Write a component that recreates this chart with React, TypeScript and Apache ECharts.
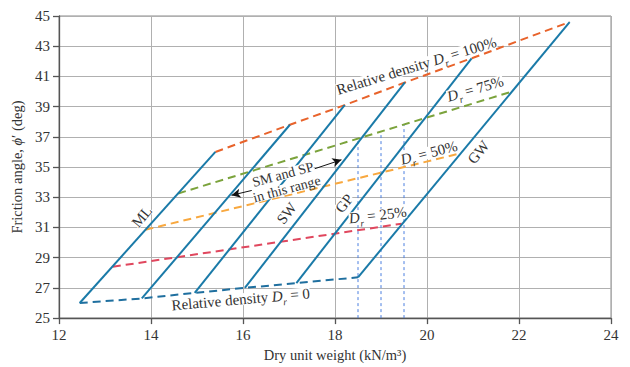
import React, { useEffect, useRef } from 'react';
import * as echarts from 'echarts';

// Dry unit weight (kN/m3) and friction angle (deg) at the loose (Dr = 0) end of each soil line
const gammaDr0 = [12.45, 13.8, 14.95, 16.04, 17.16, 18.5];
const phiDr0 = [26.0, 26.3, 26.67, 27.0, 27.32, 27.7];
// ... and at the dense (Dr = 100%) end
const gammaDr100 = [15.4, 17.02, 18.21, 19.52, 20.97, 23.1];
const phiDr100 = [36.0, 37.8, 39.1, 40.6, 42.2, 44.6];

// Intermediate relative-density lines (start on ML, end on GW)
const dr25Gamma = [13.17, 19.45];
const dr25Phi = [28.4, 31.25];
const dr50Gamma = [13.88, 20.72];
const dr50Phi = [30.85, 35.9];
const dr75Gamma = [14.59, 21.85];
const dr75Phi = [33.25, 40.0];

// Dotted guide lines
const guideGamma = [18.5, 19.0, 19.5];
const guideTopPhi = [36.9, 37.35, 37.85];

// Arrows for "SM and SP in this range"
const arrowFrom = [[16.19, 33.45], [17.56, 34.89]];
const arrowTo = [[15.75, 33.13], [18.14, 35.48]];

const xTicks = { min: 12, max: 24, step: 2 };
const yTicks = { min: 25, max: 45, step: 2 };

const FONT = '"Liberation Serif", "DejaVu Serif", serif';
const TEXT = '#333333';
const BLUE = '#1a7aa8';

const annotations = [
  { text: '{t|Relative density }{i|D}{s|r}{t| = 100%}', at: [19.77, 41.7], rot: 17, size: 15 },
  { text: '{i|D}{s|r}{t| = 75%}', at: [21.05, 40.18], rot: 16, size: 15 },
  { text: '{i|D}{s|r}{t| = 50%}', at: [20.04, 35.95], rot: 14.5, size: 15 },
  { text: '{i|D}{s|r}{t| = 25%}', at: [18.93, 31.82], rot: 7, size: 15 },
  { text: '{t|Relative density }{i|D}{s|r}{t| = 0}', at: [15.95, 26.24], rot: 5, size: 15 },
  { text: '{t|ML}', at: [13.8, 31.72], rot: 50, size: 15 },
  { text: '{t|SW}', at: [16.95, 31.93], rot: 52, size: 15 },
  { text: '{t|GP}', at: [18.2, 32.59], rot: 52, size: 15 },
  { text: '{t|GW}', at: [21.12, 35.98], rot: 51, size: 15 },
  { text: '{t|SM and SP}\n{t|in this range}', at: [16.91, 34.02], rot: 15, size: 14 },
];

export default function App() {
  const ref = useRef<HTMLDivElement>(null);

  useEffect(() => {
    const chart = echarts.init(ref.current as HTMLDivElement, null, { renderer: 'svg' });

    const soilSeries = gammaDr0.map((g, i) => ({
      type: 'line',
      symbol: 'none',
      silent: true,
      lineStyle: { color: BLUE, width: 2 },
      data: [
        [g, phiDr0[i]],
        [gammaDr100[i], phiDr100[i]],
      ],
      z: 3,
    }));

    const dashed = (xs: number[], ys: number[], color: string) => ({
      type: 'line',
      symbol: 'none',
      silent: true,
      lineStyle: { color, width: 2, type: [8, 5] },
      data: xs.map((x, i) => [x, ys[i]]),
      z: 2,
    });

    const guideSeries = guideGamma.map((g, i) => ({
      type: 'line',
      symbol: 'none',
      silent: true,
      lineStyle: { color: '#4a7fe0', width: 1, type: [3, 3] },
      data: [
        [g, yTicks.min],
        [g, guideTopPhi[i]],
      ],
      z: 1,
    }));

    const arrowSeries = {
      type: 'line',
      data: [],
      silent: true,
      markLine: {
        silent: true,
        symbol: ['none', 'arrow'],
        symbolSize: [7, 9],
        label: { show: false },
        lineStyle: { color: '#111', width: 1, type: 'solid' },
        data: arrowFrom.map((f, i) => [{ coord: f }, { coord: arrowTo[i] }]),
      },
    };

    const axisLineStyle = { color: '#555', width: 1.3 };

    chart.setOption({
      animation: false,
      backgroundColor: '#ffffff',
      textStyle: { fontFamily: FONT },
      grid: {
        left: 59,
        right: 19,
        top: 16,
        bottom: 45,
        show: true,
        borderColor: '#8a8a8a',
        borderWidth: 1,
      },
      xAxis: {
        type: 'value',
        min: xTicks.min,
        max: xTicks.max,
        interval: xTicks.step,
        axisLine: { show: true, onZero: false, lineStyle: axisLineStyle },
        axisTick: { show: true, length: 6, lineStyle: axisLineStyle },
        axisLabel: { fontSize: 15, color: TEXT, fontFamily: FONT, margin: 9 },
        splitLine: { show: true, lineStyle: { color: '#b0b0b0', width: 1 } },
        name: 'Dry unit weight (kN/m³)',
        nameLocation: 'middle',
        nameGap: 27,
        nameTextStyle: { fontSize: 14.5, color: TEXT, fontFamily: FONT },
      },
      yAxis: {
        type: 'value',
        min: yTicks.min,
        max: yTicks.max,
        interval: yTicks.step,
        axisLine: { show: true, onZero: false, lineStyle: axisLineStyle },
        axisTick: { show: true, length: 6, lineStyle: axisLineStyle },
        axisLabel: { fontSize: 15, color: TEXT, fontFamily: FONT, margin: 9 },
        splitLine: { show: true, lineStyle: { color: '#b0b0b0', width: 1 } },
        name: 'Friction angle, {i|ϕ}′ (deg)',
        nameLocation: 'middle',
        nameGap: 29,
        nameTextStyle: {
          fontSize: 14.5,
          color: TEXT,
          fontFamily: FONT,
          rich: { i: { fontStyle: 'italic', fontSize: 14.5, color: TEXT, fontFamily: FONT } },
        },
      },
      series: [
        ...guideSeries,
        dashed(gammaDr0, phiDr0, '#1f6f9f'),
        dashed(dr25Gamma, dr25Phi, '#e0475e'),
        dashed(dr50Gamma, dr50Phi, '#f8a83f'),
        dashed(dr75Gamma, dr75Phi, '#7ba33c'),
        dashed(gammaDr100, phiDr100, '#e8632b'),
        ...soilSeries,
        arrowSeries,
      ],
    });

    const graphic = annotations.map((a) => {
      const p = chart.convertToPixel({ gridIndex: 0 }, a.at) as number[];
      const twoLines = a.text.includes('\n');
      const boxH = Math.round(a.size * 0.8);
      return {
        type: 'text',
        x: p[0],
        y: p[1],
        rotation: (a.rot * Math.PI) / 180,
        z: 10,
        silent: true,
        style: {
          text: a.text,
          fill: TEXT,
          fontSize: a.size,
          fontFamily: FONT,
          align: 'center',
          verticalAlign: 'middle',
          lineHeight: twoLines ? 15 : 21,
          rich: {
            t: { fontSize: a.size, fontFamily: FONT, fill: TEXT, backgroundColor: '#ffffff', height: boxH },
            i: {
              fontStyle: 'italic',
              fontSize: a.size,
              fontFamily: FONT,
              fill: TEXT,
              backgroundColor: '#ffffff',
              height: boxH,
            },
            s: {
              fontStyle: 'italic',
              fontSize: 10,
              fontFamily: FONT,
              fill: TEXT,
              verticalAlign: 'bottom',
              height: 9,
            },
          },
        },
      };
    });
    chart.setOption({ graphic });

    return () => chart.dispose();
  }, []);

  return (
    <div
      ref={ref}
      style={{ position: 'fixed', left: 0, top: 0, width: 630, height: 367, background: '#fff' }}
    />
  );
}
